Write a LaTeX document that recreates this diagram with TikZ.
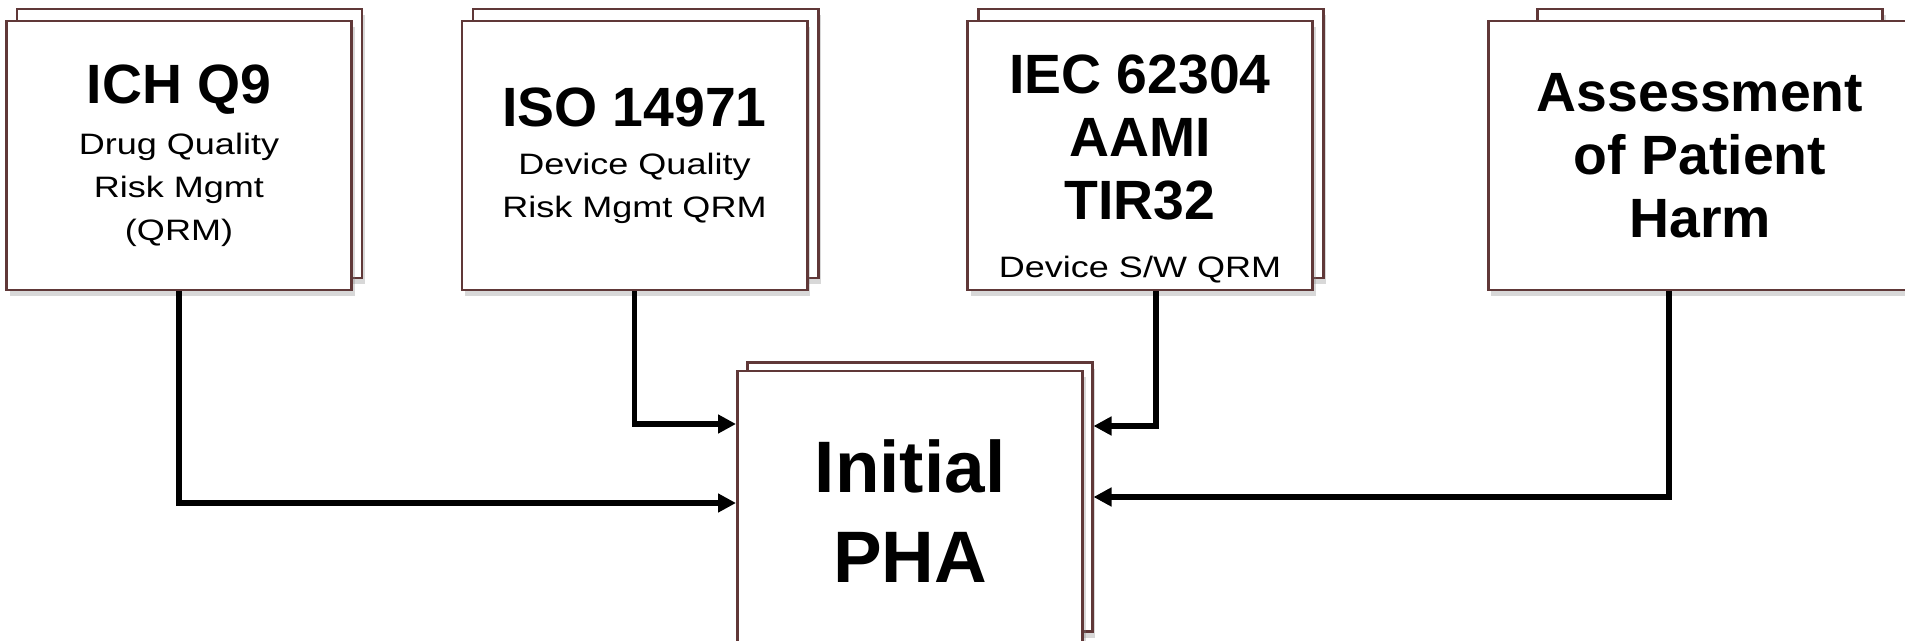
\documentclass[tikz,border=0pt]{standalone}
\usepackage{fontspec}
\setmainfont{Liberation Sans}
\newfontfamily\subfam[FakeStretch=1.22]{Liberation Sans}
\usetikzlibrary{arrows.meta,shadows}
\definecolor{umber}{RGB}{96,56,56}
\definecolor{ink}{RGB}{0,0,0}
\newcommand\hdfont{\fontsize{31.5}{36}\bfseries\selectfont\spaceskip=0pt\xspaceskip=0pt}
\newcommand\subfont{\subfam\fontsize{16.8}{24.5}\selectfont\spaceskip=0pt\xspaceskip=0pt}
\newcommand\phafont{\fontsize{41.5}{51}\bfseries\selectfont}
\setlength{\parindent}{0pt}
\setlength{\parskip}{0pt}
\tikzset{
  >={Triangle[length=3.6mm,width=3.6mm]},
  sheet/.style={draw=umber,fill=white,line width=1.7pt,inner sep=0pt,
    minimum width=6.9cm,minimum height=5.38cm,text width=6.5cm,align=flush center,
    drop shadow={shadow xshift=0.6mm,shadow yshift=-1.2mm,opacity=0.3}},
  flow/.style={->,line width=3.4pt,draw=#1},
  flow/.default=ink,
}
\begin{document}
\begin{tikzpicture}
    \fill[white] (0,0) rectangle (38.1,-12.82);
    \useasboundingbox (0,0) rectangle (38.1,-12.82);
    % sheets behind
    \foreach \n/\x/\y in {ich/3.79/-2.87,iso/12.91/-2.87,iec/23.01/-2.87,harm/34.2/-2.87,pha/18.39/-9.94}
      \node[sheet] (\n-back) at (\x,\y) {};
    % front sheets
    \node[sheet] (ich) at (3.58,-3.11) {{\hdfont ICH Q9\par}\vskip4.5pt{\subfont Drug Quality\\Risk Mgmt\\(QRM)\par}};
    \node[sheet] (iso) at (12.69,-3.11) {{\hdfont ISO 14971\par}\vskip2.8pt{\subfont Device Quality\\Risk Mgmt QRM\par}};
    \node[sheet] (iec) at (22.8,-3.11) {\vskip1pt{\hdfont IEC 62304\\AAMI\\TIR32\par}\vskip8pt{\subfont Device S/W QRM\par}};
    \node[sheet,minimum width=8.48cm,text width=8cm] (harm) at (34.0,-3.11) {{\hdfont Assessment\\of Patient\\Harm\par}};
    \node[sheet,minimum height=5.6cm] (pha) at (18.2,-10.22) {{\phafont Initial\\PHA\par}};
    % inputs
    \draw[flow] (ich.south) |- ([yshift=1.6mm]pha.west);
    \draw[flow] (iso.south) |- ([yshift=17.4mm]pha.west);
    \draw[flow] ([xshift=3.2mm]iec.south) |- ([yshift=14.2mm]pha-back.east);
    \draw[flow] ([xshift=-6.2mm]harm.south) |- (pha-back.east);
\end{tikzpicture}
\end{document}
